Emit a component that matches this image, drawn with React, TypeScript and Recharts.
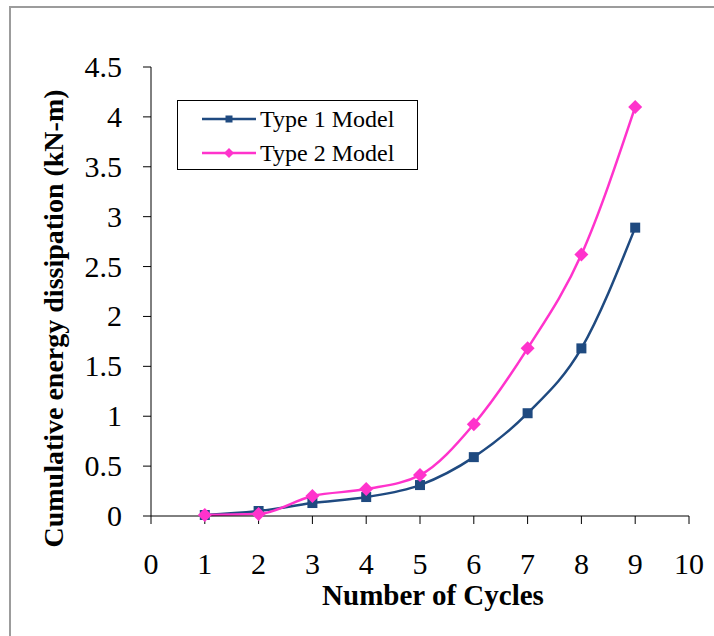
import { Legend, Line, LineChart, XAxis, YAxis } from 'recharts';

// Values
const cycles = [1, 2, 3, 4, 5, 6, 7, 8, 9];
const type1 = [0.01, 0.05, 0.13, 0.19, 0.31, 0.59, 1.03, 1.68, 2.89];
const type2 = [0.01, 0.02, 0.2, 0.27, 0.41, 0.92, 1.68, 2.62, 4.1];
const xTicks = [0, 1, 2, 3, 4, 5, 6, 7, 8, 9, 10];
const yTicks = [0, 0.5, 1, 1.5, 2, 2.5, 3, 3.5, 4, 4.5];

const COLOR = {
  type1: '#1f4a80',
  type2: '#ff33cc',
  axis: '#000000',
  frame: '#9c9c9c',
} as const;

const FONT = "'Liberation Serif', 'Times New Roman', serif";

const SERIES = [
  { key: 'type1', name: 'Type 1 Model', color: COLOR.type1, shape: 'square' },
  { key: 'type2', name: 'Type 2 Model', color: COLOR.type2, shape: 'diamond' },
] as const;

const data = cycles.map((c, i) => ({ cycle: c, type1: type1[i], type2: type2[i] }));

function Marker({ cx, cy, shape, color, size }: { cx: number; cy: number; shape: string; color: string; size: number }) {
  if (shape === 'square') {
    return <rect x={cx - size / 2} y={cy - size / 2} width={size} height={size} fill={color} />;
  }
  const r = size / 2;
  return <polygon points={`${cx},${cy - r} ${cx + r},${cy} ${cx},${cy + r} ${cx - r},${cy}`} fill={color} />;
}

function LegendBox() {
  return (
    <div
      style={{
        width: 239,
        height: 68,
        border: '1px solid #000',
        background: '#fff',
        fontFamily: FONT,
        fontSize: 24,
        color: '#000',
        position: 'relative',
      }}
    >
      {SERIES.map((s, i) => (
        <div
          key={s.key}
          style={{
            position: 'absolute',
            left: 24,
            top: 3 + i * 34,
            height: 30,
            display: 'flex',
            alignItems: 'center',
            whiteSpace: 'nowrap',
          }}
        >
          <svg width={54} height={14}>
            <line x1={0} y1={7} x2={54} y2={7} stroke={s.color} strokeWidth={2.5} />
            <Marker cx={27} cy={7} shape={s.shape} color={s.color} size={s.shape === 'square' ? 7 : 10} />
          </svg>
          <span style={{ marginLeft: 4 }}>{s.name}</span>
        </div>
      ))}
    </div>
  );
}

// tick labels drawn by hand so the serif face sticks
function XTick({ x, y, payload }: any) {
  return (
    <text x={x} y={y + 21} textAnchor="middle" fontFamily={FONT} fontSize={30} fill="#000">
      {payload.value}
    </text>
  );
}

function YTick({ x, y, payload }: any) {
  return (
    <text x={x} y={y + 10} textAnchor="end" fontFamily={FONT} fontSize={30} fill="#000">
      {payload.value}
    </text>
  );
}

function XTitle(props: any) {
  const vb = props.viewBox ?? { x: 0, y: 0, width: 0, height: 0 };
  return (
    <text
      x={vb.x + vb.width / 2 + 13}
      y={vb.y + 89}
      textAnchor="middle"
      fontFamily={FONT}
      fontWeight="bold"
      fontSize={29}
      fill="#000"
    >
      Number of Cycles
    </text>
  );
}

function YTitle(props: any) {
  const vb = props.viewBox ?? { x: 0, y: 0, width: 0, height: 0 };
  const x = vb.x + 43;
  const y = vb.y + vb.height / 2 + 27;
  return (
    <text
      x={x}
      y={y}
      transform={`rotate(-90, ${x}, ${y})`}
      textAnchor="middle"
      fontFamily={FONT}
      fontWeight="bold"
      fontSize={28}
      fill="#000"
    >
      Cumulative energy dissipation (kN-m)
    </text>
  );
}

export default function App() {
  return (
    <div style={{ position: 'absolute', left: 0, top: 0, width: 714, height: 636, overflow: 'hidden', background: '#fff' }}>
      <div
        style={{
          position: 'absolute',
          left: 9,
          top: 6,
          width: 800,
          height: 800,
          borderLeft: `2px solid ${COLOR.frame}`,
          borderTop: `2px solid ${COLOR.frame}`,
        }}
      />
      <div style={{ position: 'absolute', left: 0, top: 0 }}>
        <LineChart width={714} height={636} data={data} margin={{ top: 67, right: 25, bottom: 20, left: 20 }}>
          <XAxis
            type="number"
            dataKey="cycle"
            domain={[0, 10]}
            ticks={xTicks}
            interval={0}
            height={100}
            stroke={COLOR.axis}
            tickSize={8}
            tickMargin={29}
            tick={<XTick />}
            label={{ value: 'Number of Cycles', content: (p: any) => <XTitle {...p} /> }}
          />
          <YAxis
            type="number"
            domain={[0, 4.5]}
            ticks={yTicks}
            interval={0}
            width={131}
            stroke={COLOR.axis}
            tickSize={8}
            tickMargin={21}
            tick={<YTick />}
            label={{ value: 'Cumulative energy dissipation (kN-m)', content: (p: any) => <YTitle {...p} /> }}
          />
          <Legend
            layout="vertical"
            align="center"
            verticalAlign="middle"
            content={() => <LegendBox />}
            wrapperStyle={{ left: 177, top: 100, width: 241, height: 70 }}
          />
          {SERIES.map((s) => (
            <Line
              key={s.key}
              type="monotone"
              dataKey={s.key}
              name={s.name}
              stroke={s.color}
              strokeWidth={2.5}
              dot={(p: any) => (
                <Marker
                  key={`${s.key}-${p.index}`}
                  cx={p.cx}
                  cy={p.cy}
                  shape={s.shape}
                  color={s.color}
                  size={s.shape === 'square' ? 10 : 14}
                />
              )}
              activeDot={false}
              isAnimationActive={false}
            />
          ))}
        </LineChart>
      </div>
    </div>
  );
}
